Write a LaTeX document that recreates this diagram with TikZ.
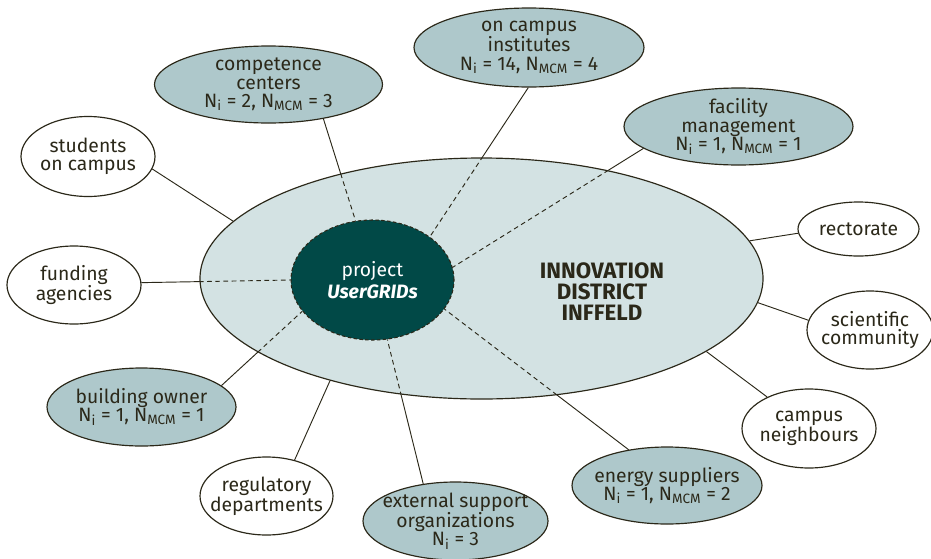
\documentclass[tikz,border=0pt]{standalone}
\usepackage{fontspec}
\setmainfont{Fira Sans}
\usetikzlibrary{shapes.geometric}
\pgfdeclarelayer{back}
\pgfsetlayers{back,main}

\definecolor{ink}{HTML}{2B2819}
\definecolor{stake}{HTML}{AEC8CB}
\definecolor{zonefill}{HTML}{D3E2E3}
\definecolor{projfill}{HTML}{014947}

\newcommand{\Ni}[1]{N\textsubscript{i} = #1}
\newcommand{\Nm}[1]{N\textsubscript{MCM} = #1}

\begin{document}
\begin{tikzpicture}[x=0.03cm, y=-0.03cm,
    dims/.style 2 args={minimum width=#1*0.03cm, minimum height=#2*0.03cm},
    actor/.style={ellipse, draw=ink, line width=1pt, inner sep=-10pt, align=center, text=ink,
        font=\fontsize{16.5}{15.6}\selectfont},
    member/.style={actor, fill=stake},
    other/.style={actor, fill=white},
    link/.style={ink, line width=0.8pt},
    weak/.style={link, dash pattern=on 4pt off 3pt}
]
\useasboundingbox (0,0) rectangle (931,558);

% the district and the project inside it
\node[ellipse, draw=ink, fill=zonefill, line width=1pt, inner sep=0pt, dims={563}{241}] (zone) at (481.5,278.5) {};
\node[ellipse, draw=ink, fill=projfill, line width=0.9pt, dash pattern=on 3pt off 2pt, inner sep=-10pt,
    dims={163}{120}, text=white, align=center, font=\fontsize{16.5}{18.5}\selectfont] (proj) at (372.5,280)
    {project\\\textbf{\textit{UserGRIDs}}};
\node[text=ink, align=center, font=\bfseries\fontsize{19}{17.9}\selectfont] (district) at (602,292)
    {INNOVATION\\DISTRICT\\INFFELD};

% stakeholders
\node[other, dims={134}{80}] (students) at (88,156.5) {students\\on campus};
\node[other, dims={134}{78}] (funding) at (74,285) {funding\\agencies};
\node[member, dims={228}{77}] (competence) at (268.5,84.5) {competence\\centers\\\Ni{2}, \Nm{3}};
\node[member, dims={230}{79}] (institutes) at (529,47.5) {on campus\\institutes\\\Ni{14}, \Nm{4}};
\node[member, dims={229}{77}] (facility) at (738.5,126.5) {facility\\management\\\Ni{1}, \Nm{1}};
\node[other, dims={121}{54}] (rectorate) at (858.5,229) {rectorate};
\node[other, dims={126}{78}] (scientific) at (870,330) {scientific\\community};
\node[other, dims={134}{79}] (neighbours) at (809,428.5) {campus\\neighbours};
\node[member, dims={190}{77}] (energy) at (667,485.5) {energy suppliers\\\Ni{1}, \Nm{2}};
\node[member, dims={185}{78}] (external) at (455.5,521) {external support\\organizations\\\Ni{3}};
\node[other, dims={133}{78}] (regulatory) at (266.5,496) {regulatory\\departments};
\node[member, dims={189}{78}] (owner) at (141.5,407) {building owner\\\Ni{1}, \Nm{1}};

\def\ties{funding.2/180, competence.-32/106, institutes.-91/37, facility.-167/9,
    energy.137/-22, external.131/-76, owner.15/-156}

\begin{pgfonlayer}{back}
\draw[link] (students.-11) -- (zone.167);
\draw[link] (rectorate.184) -- (zone.8);
\draw[link] (scientific.171) -- (zone.-5);
\draw[link] (neighbours.143) -- (zone.-18);
\draw[link] (regulatory.52) -- (zone.-146);
\foreach \s/\e in \ties
    \draw[link] (\s) -- (proj.\e);
\end{pgfonlayer}

% dashed inside the district
\begin{scope}
\clip (zone.center) ellipse [x radius=8.445cm, y radius=3.615cm];
\foreach \s/\e in \ties
    \draw[weak] (\s) -- (proj.\e);
\end{scope}
\end{tikzpicture}
\end{document}
